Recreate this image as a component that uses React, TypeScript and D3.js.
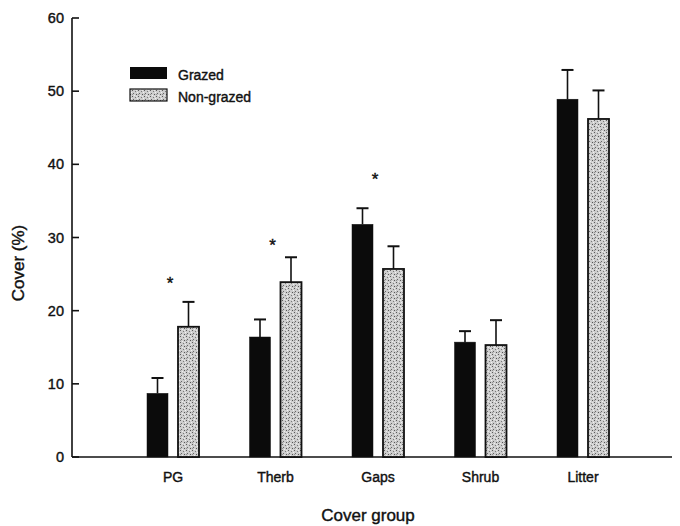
import React from "react";
import * as d3 from "d3";

const categories = ["PG", "Therb", "Gaps", "Shrub", "Litter"];
const grazed = [8.7, 16.4, 31.8, 15.7, 48.9];
const grazedErr = [2.1, 2.4, 2.2, 1.5, 4.0];
const nonGrazed = [17.8, 23.9, 25.7, 15.3, 46.2];
const nonGrazedErr = [3.4, 3.4, 3.1, 3.4, 3.9];
const starLevels: (number | null)[] = [24.0, 29.2, 38.3, null, null];
const yTicks = [0, 10, 20, 30, 40, 50, 60];

const W = 680;
const H = 526;
const axisX = 72;
const textStyle: React.CSSProperties = {
  fontFamily: "Liberation Sans, Arial, sans-serif",
  fill: "#111",
  stroke: "#111",
  strokeWidth: 0.4,
};

export default function App() {
  const y = d3.scaleLinear().domain([0, 60]).range([457, 18]);
  const x = d3.scalePoint<string>().domain(categories).range([173, 583]);
  const barW = 21;
  const off = 15.5;

  const series = [
    { vals: grazed, errs: grazedErr, dx: -off, fill: "#0b0b0b" },
    { vals: nonGrazed, errs: nonGrazedErr, dx: off, fill: "url(#stipple)" },
  ];

  return (
    <svg
      width={W}
      height={H}
      style={{ position: "absolute", left: 0, top: 0, background: "#fff" }}
    >
      <defs>
        <pattern id="stipple" width="6" height="6" patternUnits="userSpaceOnUse">
          <rect width="6" height="6" fill="#cdcdcd" />
          <rect x="0" y="0" width="1" height="1" fill="#5a5a5a" />
          <rect x="3" y="1" width="1" height="1" fill="#7a7a7a" />
          <rect x="1" y="3" width="1" height="1" fill="#666" />
          <rect x="4" y="4" width="1" height="1" fill="#555" />
          <rect x="5" y="2" width="1" height="1" fill="#f2f2f2" />
          <rect x="2" y="5" width="1" height="1" fill="#eee" />
          <rect x="0" y="4" width="1" height="1" fill="#909090" />
          <rect x="4" y="0" width="1" height="1" fill="#e8e8e8" />
        </pattern>
      </defs>

      {/* y axis */}
      <line x1={axisX} x2={axisX} y1={y(60)} y2={y(0)} stroke="#111" strokeWidth={1.6} />
      {yTicks.map((t) => (
        <g key={t}>
          <line x1={axisX} x2={axisX + 7} y1={y(t)} y2={y(t)} stroke="#111" strokeWidth={1.6} />
          <text x={axisX - 8} y={y(t) + 5} textAnchor="end" fontSize={14.5} style={textStyle}>
            {t}
          </text>
        </g>
      ))}
      {/* baseline */}
      <line x1={axisX} x2={672} y1={y(0)} y2={y(0)} stroke="#111" strokeWidth={1.6} />

      {/* bars */}
      {series.map((s, si) =>
        categories.map((c, i) => {
          const cx = (x(c) as number) + s.dx;
          const top = y(s.vals[i]);
          const errTop = y(s.vals[i] + s.errs[i]);
          return (
            <g key={`${si}-${c}`}>
              <line x1={cx} x2={cx} y1={top} y2={errTop} stroke="#111" strokeWidth={1.6} />
              <line x1={cx - 6} x2={cx + 6} y1={errTop} y2={errTop} stroke="#111" strokeWidth={2} />
              <rect
                x={cx - barW / 2}
                y={top}
                width={barW}
                height={y(0) - top}
                fill={s.fill}
                stroke="#111"
                strokeWidth={si === 1 ? 1.8 : 0.5}
              />
            </g>
          );
        })
      )}

      {/* significance stars */}
      {categories.map((c, i) => {
        const lvl = starLevels[i];
        return lvl !== null ? (
          <text
            key={`star-${c}`}
            x={(x(c) as number) - 3}
            y={y(lvl) + 8}
            textAnchor="middle"
            fontSize={17}
            style={textStyle}
          >
            *
          </text>
        ) : null;
      })}

      {/* category labels */}
      {categories.map((c) => (
        <text key={c} x={x(c) as number} y={482} textAnchor="middle" fontSize={14} style={textStyle}>
          {c}
        </text>
      ))}

      {/* axis titles */}
      <text x={368} y={521} textAnchor="middle" fontSize={17} style={textStyle}>
        Cover group
      </text>
      <text
        transform={`translate(24, ${263}) rotate(-90)`}
        textAnchor="middle"
        fontSize={17}
        style={textStyle}
      >
        Cover (%)
      </text>

      {/* legend */}
      <rect x={130} y={67} width={37} height={12} fill="#0b0b0b" />
      <text x={178} y={80} fontSize={14} style={textStyle}>
        Grazed
      </text>
      <rect x={130} y={89} width={37} height={12} fill="url(#stipple)" stroke="#111" strokeWidth={1.2} />
      <text x={178} y={102} fontSize={14} style={textStyle}>
        Non-grazed
      </text>
    </svg>
  );
}
